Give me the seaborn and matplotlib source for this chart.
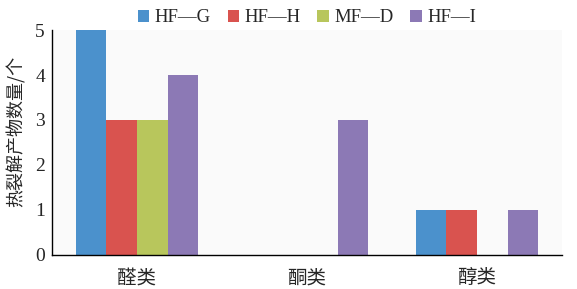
import pandas as pd
import matplotlib.pyplot as plt
import seaborn as sns

# Données
categories = ['醛类', '酮类', '醇类']
series = ['HF—G', 'HF—H', 'MF—D', 'HF—I']
hf_g = [5, 0, 1]
hf_h = [3, 0, 1]
mf_d = [3, 0, 0]
hf_i = [4, 3, 1]
colors = ['#4b91cc', '#d9534f', '#b8c65c', '#8c79b5']

df = pd.DataFrame({
    'cat': categories * 4,
    'serie': [s for s in series for _ in categories],
    'val': hf_g + hf_h + mf_d + hf_i,
})

sns.set_style('white')
plt.rcParams['font.family'] = ['Liberation Serif', 'Noto Sans CJK SC', 'DejaVu Sans']

fig = plt.figure(figsize=(5.77, 2.89), dpi=100)
ax = fig.add_axes([0.090, 0.118, 0.884, 0.778])
ax.set_facecolor('#fafafa')

sns.barplot(data=df, x='cat', y='val', hue='serie', palette=colors,
            width=0.72, saturation=1, linewidth=0, ax=ax, legend=True)

ax.set_xlim(-0.5, 2.5)
ax.set_ylim(0, 5)
ax.set_yticks(range(6))
ax.tick_params(axis='y', direction='in', length=4, labelsize=14, color='black', pad=5)
ax.set_xticks([0, 1, 2])
ax.set_xticklabels(categories, fontsize=14, family=['Noto Sans CJK SC'])
ax.tick_params(axis='x', length=0, pad=9)
ax.set_xticks([0.5, 1.5, 2.5], minor=True)
ax.tick_params(axis='x', which='minor', direction='in', length=4, color='black')
ax.set_xlabel('')
ax.set_ylabel('热裂解产物数量/个', fontsize=13, family=['Noto Sans CJK SC'])
ax.yaxis.set_label_coords(-0.052, 0.55)

for s in ['top', 'right']:
    ax.spines[s].set_visible(False)
for s in ['left', 'bottom']:
    ax.spines[s].set_color('black')
    ax.spines[s].set_linewidth(1)

handles, labels = ax.get_legend_handles_labels()
ax.legend(handles, labels, ncol=4, loc='center', bbox_to_anchor=(0.5, 1.055),
          frameon=False, fontsize=13.5, handlelength=0.6, handleheight=0.6,
          handletextpad=0.3, columnspacing=0.9, borderaxespad=0)

fig.savefig('out.png', dpi=100)
